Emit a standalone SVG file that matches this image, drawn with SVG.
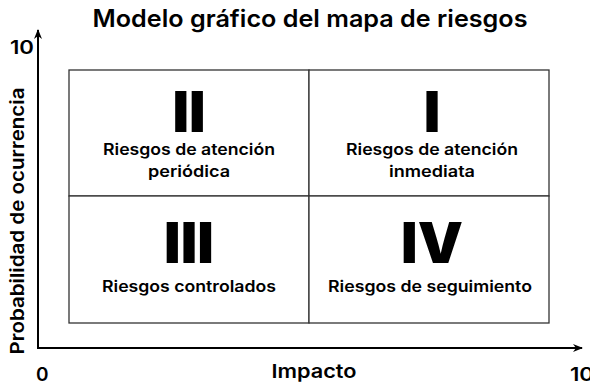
<svg xmlns="http://www.w3.org/2000/svg" width="590" height="384" viewBox="0 0 590 384">
<defs>
<marker id="arr" markerWidth="10" markerHeight="10" refX="9" refY="5" orient="auto" markerUnits="userSpaceOnUse">
<path d="M0,1 L10,5 L0,9 L3,5 Z" fill="#000"/>
</marker>
<style>
.t{font-family:Inter,"Noto Sans","Liberation Sans",sans-serif;fill:#000}
.title{font-size:24px;font-weight:600}
.ax{font-size:19px;font-weight:600}
.lab{font-size:16px;font-weight:600}
.num{font-size:57px;font-weight:900}
.box{fill:#fff;stroke:#333;stroke-width:1.3}
</style>
</defs>
<rect width="590" height="384" fill="#fff"/>
<text class="t title" x="310" y="27" text-anchor="middle" textLength="435" lengthAdjust="spacingAndGlyphs">Modelo gráfico del mapa de riesgos</text>
<g id="connectors" stroke="#000" stroke-width="2" fill="none">
<line x1="38" y1="348" x2="38" y2="30" marker-end="url(#arr)"/>
<line x1="37" y1="348" x2="582" y2="348" marker-end="url(#arr)"/>
</g>
<text class="t ax" x="10" y="54" textLength="24" lengthAdjust="spacingAndGlyphs">10</text>
<text class="t ax" x="36" y="381">0</text>
<text class="t ax" x="314" y="378" text-anchor="middle" textLength="85" lengthAdjust="spacingAndGlyphs">Impacto</text>
<text class="t ax" x="570" y="381" textLength="24" lengthAdjust="spacingAndGlyphs">10</text>
<text class="t ax" transform="translate(24,221) rotate(-90)" text-anchor="middle" textLength="267" lengthAdjust="spacingAndGlyphs">Probabilidad de ocurrencia</text>
<g id="q2">
<rect class="box" x="69" y="70" width="240" height="126"/>
<text class="t num" x="189" y="132" text-anchor="middle">II</text>
<text class="t lab" x="189" y="155" text-anchor="middle" textLength="172" lengthAdjust="spacingAndGlyphs">Riesgos de atención</text>
<text class="t lab" x="189" y="177" text-anchor="middle" textLength="82" lengthAdjust="spacingAndGlyphs">periódica</text>
</g>
<g id="q1">
<rect class="box" x="309" y="70" width="240" height="126"/>
<text class="t num" x="432" y="132" text-anchor="middle">I</text>
<text class="t lab" x="432" y="155" text-anchor="middle" textLength="172" lengthAdjust="spacingAndGlyphs">Riesgos de atención</text>
<text class="t lab" x="432" y="177" text-anchor="middle" textLength="86" lengthAdjust="spacingAndGlyphs">inmediata</text>
</g>
<g id="q3">
<rect class="box" x="69" y="196" width="240" height="127"/>
<text class="t num" x="189" y="263" text-anchor="middle">III</text>
<text class="t lab" x="189" y="292" text-anchor="middle" textLength="174" lengthAdjust="spacingAndGlyphs">Riesgos controlados</text>
</g>
<g id="q4">
<rect class="box" x="309" y="196" width="240" height="127"/>
<text class="t num" x="432" y="263" text-anchor="middle">IV</text>
<text class="t lab" x="430" y="292" text-anchor="middle" textLength="204" lengthAdjust="spacingAndGlyphs">Riesgos de seguimiento</text>
</g>
</svg>
